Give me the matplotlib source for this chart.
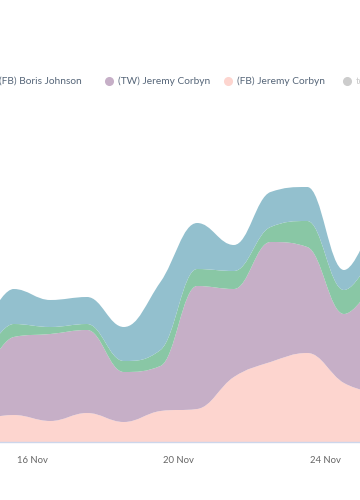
import numpy as np
import matplotlib.pyplot as plt
from matplotlib.path import Path
from matplotlib.patches import PathPatch

# daily values (one point per day, taken at noon)
days = [14.5, 15.5, 16.5, 17.5, 18.5, 19.5, 20.5, 21.5, 22.5, 23.5, 24.5, 25.5]
fb_corbyn = [22, 27, 21, 29, 20, 31, 33, 65, 80, 89, 59, 48]
tw_corbyn = [28, 78, 87, 83, 50, 45, 123, 88, 120, 106, 69, 126]
fb_johnson = [20, 13, 7, 6, 11, 16, 17, 18, 15, 26, 24, 33]
tw_johnson = [27, 35, 27, 27, 34, 68, 46, 26, 35, 34, 20, 40]

tick_days = [16, 20, 24]
tick_labels = ['16 Nov', '20 Nov', '24 Nov']

legend_names = ['(FB) Boris Johnson', '(TW) Jeremy Corbyn', '(FB) Jeremy Corbyn', 'total']
legend_cols = [None, '#c6afc7', '#fdd5cf', '#cccccc']

colors = {'fb_corbyn': '#fdd5cf', 'tw_corbyn': '#c6afc7',
          'fb_johnson': '#89c7a5', 'tw_johnson': '#93c0ce'}


def spline_ctrl(x, y, smoothing=1.5):
    # highcharts style bezier control points
    n = len(x)
    lcx, lcy, rcx, rcy = list(x), list(y), list(x), list(y)
    d = smoothing + 1
    for i in range(1, n - 1):
        lx = (smoothing * x[i] + x[i - 1]) / d
        ly = (smoothing * y[i] + y[i - 1]) / d
        rx = (smoothing * x[i] + x[i + 1]) / d
        ry = (smoothing * y[i] + y[i + 1]) / d
        corr = 0
        if rx != lx:
            corr = (ry - ly) * (rx - x[i]) / (rx - lx) + y[i] - ry
        ly += corr
        ry += corr
        if ly > y[i - 1] and ly > y[i]:
            ly = max(y[i - 1], y[i]); ry = 2 * y[i] - ly
        elif ly < y[i - 1] and ly < y[i]:
            ly = min(y[i - 1], y[i]); ry = 2 * y[i] - ly
        if ry > y[i + 1] and ry > y[i]:
            ry = max(y[i + 1], y[i]); ly = 2 * y[i] - ry
        elif ry < y[i + 1] and ry < y[i]:
            ry = min(y[i + 1], y[i]); ly = 2 * y[i] - ry
        lcx[i], lcy[i], rcx[i], rcy[i] = lx, ly, rx, ry
    return lcx, lcy, rcx, rcy


def segs(x, y):
    lcx, lcy, rcx, rcy = spline_ctrl(x, y)
    out = []
    for i in range(1, len(x)):
        out.append(((rcx[i - 1], rcy[i - 1]), (lcx[i], lcy[i]), (x[i], y[i])))
    return out


def band(ax, x, lower, upper, color):
    verts = [(x[0], upper[0])]
    codes = [Path.MOVETO]
    for c1, c2, p in segs(x, upper):
        verts += [c1, c2, p]
        codes += [Path.CURVE4] * 3
    if lower is None:
        verts += [(x[-1], 0), (x[0], 0)]
        codes += [Path.LINETO, Path.LINETO]
    else:
        verts.append((x[-1], lower[-1]))
        codes.append(Path.LINETO)
        rx, ry = x[::-1], lower[::-1]
        for c1, c2, p in segs(rx, ry):
            verts += [c1, c2, p]
            codes += [Path.CURVE4] * 3
    verts.append(verts[0])
    codes.append(Path.CLOSEPOLY)
    ax.add_patch(PathPatch(Path(verts, codes), facecolor=color, edgecolor='none'))


plt.rcParams['font.family'] = ['Lato', 'DejaVu Sans']
fig = plt.figure(figsize=(3.6, 5), dpi=100)
ax = fig.add_axes([0, 0.116, 1, 0.684])

x = list(days)
c1 = np.cumsum([fb_corbyn, tw_corbyn, fb_johnson, tw_johnson], axis=0)
band(ax, x, None, list(c1[0]), colors['fb_corbyn'])
band(ax, x, list(c1[0]), list(c1[1]), colors['tw_corbyn'])
band(ax, x, list(c1[1]), list(c1[2]), colors['fb_johnson'])
band(ax, x, list(c1[2]), list(c1[3]), colors['tw_johnson'])

ax.set_xlim(15.128, 24.937)
ax.set_ylim(0, 342)
for s in ['top', 'left', 'right']:
    ax.spines[s].set_visible(False)
ax.spines['bottom'].set_color('#ccd6eb')
ax.spines['bottom'].set_linewidth(1)
ax.set_yticks([])
ax.set_xticks(tick_days)
ax.set_xticklabels(tick_labels, color='#666666', fontsize=6.8)
ax.tick_params(axis='x', length=0, pad=10)

# legend row (clipped at the left and right like the reference)
ly = 1 - 81 / 500
fig.text(-0.002, ly, legend_names[0], color='#556578', fontsize=7.3, va='center', ha='left')
mx = [109, 228, 347]
for i in range(1, 4):
    fig.add_artist(plt.Line2D([mx[i - 1] / 360], [ly], marker='o', markersize=5.5,
                              color=legend_cols[i], transform=fig.transFigure))
    tc = '#cccccc' if i == 3 else '#556578'
    fig.text((mx[i - 1] + 9) / 360, ly, legend_names[i], color=tc, fontsize=7.3,
             va='center', ha='left')

fig.savefig('out.png', dpi=100)
